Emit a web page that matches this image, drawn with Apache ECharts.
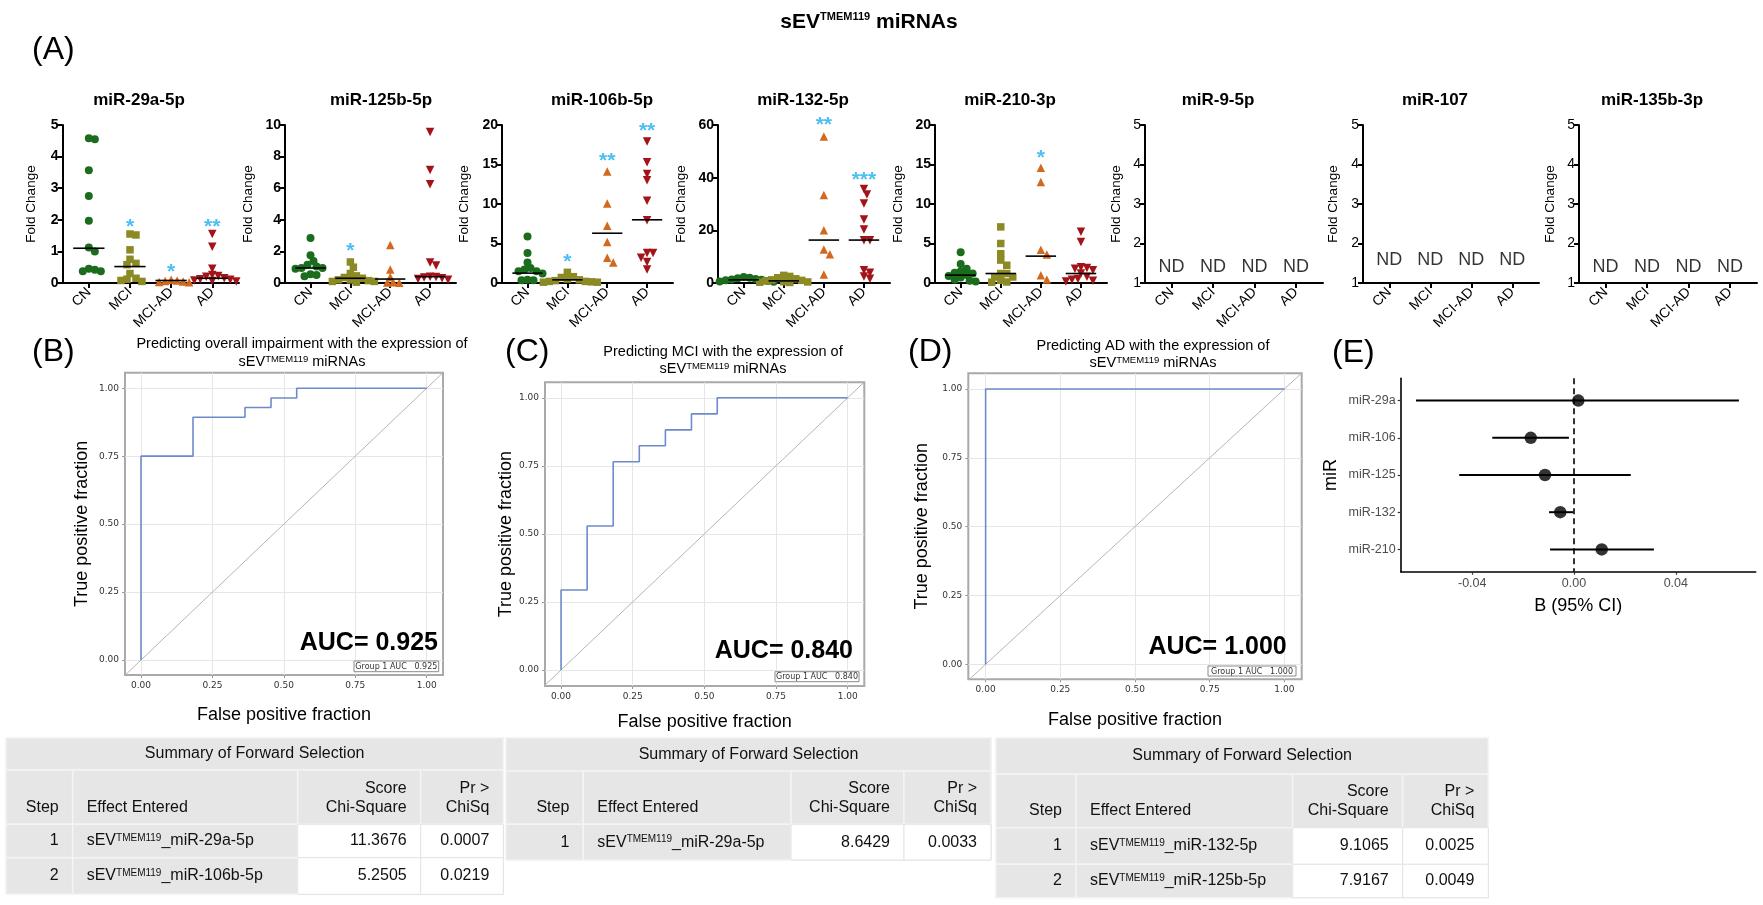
<!DOCTYPE html>
<html><head><meta charset="utf-8">
<script src="https://cdn.jsdelivr.net/npm/echarts@6/dist/echarts.min.js"></script>
<style>html,body{margin:0;padding:0;background:#fff}#c{width:1763px;height:905px}</style>
</head><body><div id="c"></div><script>
// ---------------- DATA ----------------
const groups = ['CN', 'MCI', 'MCI-AD', 'AD'];
const mirTitles = ['miR-29a-5p', 'miR-125b-5p', 'miR-106b-5p', 'miR-132-5p', 'miR-210-3p', 'miR-9-5p', 'miR-107', 'miR-135b-3p'];

const m29a_CN = [4.55, 4.58, 3.57, 2.75, 1.97, 1.12, 1.0, 0.45, 0.37, 0.37, 0.42];
const m29a_MCI = [1.55, 1.52, 1.05, 0.75, 0.62, 0.58, 0.3, 0.15, 0.12, 0.05, 0.08];
const m29a_MCIAD = [0.1, 0.08, 0.06, 0.05, 0.03, 0.02];
const m29a_AD = [1.55, 1.15, 0.45, 0.25, 0.22, 0.2, 0.15, 0.12, 0.1, 0.08, 0.06, 0.05];
const med_29a = [1.1, 0.52, 0.08, 0.15];
const star_29a = ['', '*', '*', '**'];
const starY_29a = [null, 1.93, 0.5, 1.93];

const m125b_CN = [2.85, 1.75, 1.4, 1.15, 1.05, 0.95, 0.9, 0.95, 0.42, 0.55, 0.5];
const m125b_MCI = [1.33, 1.0, 0.6, 0.45, 0.35, 0.3, 0.2, 0.15, 0.1, 0.05, 0.1, 0.2];
const m125b_MCIAD = [2.4, 0.85, 0.38, 0.02, 0.03, 0.05];
const m125b_AD = [9.55, 7.15, 6.25, 1.3, 1.1, 0.4, 0.38, 0.35, 0.3, 0.25, 0.2];
const med_125b = [0.95, 0.3, 0.25, 0.4];
const star_125b = ['', '*', '', ''];
const starY_125b = [null, 2.33, null, null];

const m106b_CN = [5.9, 3.8, 2.6, 1.9, 1.7, 1.5, 1.5, 1.2, 0.35, 0.35, 0.4];
const m106b_MCI = [1.35, 0.8, 0.7, 0.5, 0.4, 0.3, 0.2, 0.2, 0.1, 0.1, 0.15];
const m106b_MCIAD = [14.1, 10.05, 7.25, 5.2, 3.2, 2.6];
const m106b_AD = [17.9, 15.3, 13.8, 13.0, 10.4, 7.95, 3.8, 3.8, 3.2, 2.65, 1.7];
const med_106b = [1.25, 0.4, 6.3, 8.0];
const star_106b = ['', '*', '**', '**'];
const starY_106b = [null, 3.3, 16.1, 19.8];

const m132_CN = [2.3, 2.0, 1.8, 1.5, 1.3, 1.2, 1.0, 0.8, 0.6, 0.5, 0.3];
const m132_MCI = [2.9, 2.5, 2.0, 1.6, 1.2, 1.0, 0.8, 0.5, 0.4, 0.3, 0.2];
const m132_MCIAD = [55.6, 33.4, 20.0, 12.7, 10.9, 3.2];
const m132_AD = [35.7, 33.6, 30.2, 24.1, 20.3, 16.2, 16.2, 4.8, 3.9, 2.5, 1.6];
const med_132 = [1.2, 0.8, 16.3, 16.3];
const star_132 = ['', '', '**', '***'];
const starY_132 = [null, null, 62, 41];

const m210_CN = [3.9, 2.4, 1.8, 1.5, 1.3, 1.2, 1.0, 0.9, 0.7, 0.4, 0.3, 0.2];
const m210_MCI = [7.1, 5.0, 3.7, 2.9, 2.25, 1.2, 1.2, 0.76, 0.76, 0.35, 0.13, 0.1];
const m210_MCIAD = [14.6, 12.8, 4.2, 3.6, 0.97, 0.45];
const m210_AD = [6.5, 5.2, 2.0, 1.9, 1.8, 1.6, 1.2, 0.8, 0.5, 0.4, 0.3, 0.2];
const med_210 = [1.0, 1.2, 3.4, 1.2];
const star_210 = ['', '', '*', ''];
const starY_210 = [null, null, 16.4, null];

const ndText = ['ND', 'ND', 'ND', 'ND'];

const yMinA = [0, 0, 0, 0, 0, 1, 1, 1];
const yMaxA = [5, 10, 20, 60, 20, 5, 5, 5];
const yIntA = [1, 2, 5, 20, 5, 1, 1, 1];

// ROC data
const rocB_fpr = [0, 0, 0.182, 0.182, 0.364, 0.364, 0.455, 0.455, 0.545, 0.545, 1];
const rocB_tpr = [0, 0.75, 0.75, 0.893, 0.893, 0.929, 0.929, 0.964, 0.964, 1, 1];
const rocC_fpr = [0, 0, 0.091, 0.091, 0.182, 0.182, 0.273, 0.273, 0.364, 0.364, 0.455, 0.455, 0.545, 0.545, 1];
const rocC_tpr = [0, 0.294, 0.294, 0.529, 0.529, 0.765, 0.765, 0.824, 0.824, 0.882, 0.882, 0.941, 0.941, 1, 1];
const rocD_fpr = [0, 0, 1];
const rocD_tpr = [0, 1, 1];
const rocTicks = [0, 0.25, 0.5, 0.75, 1];
const aucValues = ['0.925', '0.840', '1.000'];
const rocTitles = ['Predicting overall impairment with the expression of', 'Predicting MCI with the expression of', 'Predicting AD with the expression of'];

// Forest plot (E)
const E_mirs = ['miR-29a', 'miR-106', 'miR-125', 'miR-132', 'miR-210'];
const E_est = [0.0017, -0.0170, -0.0114, -0.0054, 0.0109];
const E_lo = [-0.0621, -0.0321, -0.0451, -0.0098, -0.0094];
const E_hi = [0.0648, -0.0020, 0.0223, -0.0003, 0.0314];
const E_ticks = [-0.04, 0, 0.04];

// Tables
const T1_step = ['1', '2'];
const T1_effect = ['miR-29a-5p', 'miR-106b-5p'];
const T1_score = ['11.3676', '5.2505'];
const T1_p = ['0.0007', '0.0219'];
const T2_step = ['1'];
const T2_effect = ['miR-29a-5p'];
const T2_score = ['8.6429'];
const T2_p = ['0.0033'];
const T3_step = ['1', '2'];
const T3_effect = ['miR-132-5p', 'miR-125b-5p'];
const T3_score = ['9.1065', '7.9167'];
const T3_p = ['0.0025', '0.0049'];

// ---------------- STYLE / LAYOUT ----------------
const FONT = "'Liberation Sans', Arial, Helvetica, sans-serif";
const groupColors = ['#1b6d1d', '#8c8a24', '#d2691e', '#a3141a'];
const groupSymbols = ['circle', 'rect', 'triangle', 'triangle'];
const groupRotate = [0, 0, 0, 180];
const groupSizes = [8, 7.5, 8.5, 8.5];
const starColor = '#1eaef0';

const A_TOP = 125, A_H = 158, X_MIN = -0.64, X_MAX = 3.65;
const A_LAYOUT = [
  { left: 62.5, width: 176.5, title: 139, gap: 24 },
  { left: 285, width: 171, title: 381, gap: 30 },
  { left: 502, width: 171, title: 602, gap: 31 },
  { left: 718, width: 172, title: 803, gap: 30 },
  { left: 935, width: 172, title: 1010, gap: 30 },
  { left: 1145, width: 178, title: 1218, gap: 22, nd: 1.4 },
  { left: 1363, width: 176, title: 1435, gap: 23, nd: 1.58 },
  { left: 1579, width: 178, title: 1652, gap: 22, nd: 1.4 }
];
const ROC_LAYOUT = [
  { left: 125, top: 372.7, width: 318, height: 302.3, xmin: -0.056, xmax: 1.057, ymin: -0.055, ymax: 1.057, ygap: 34, xgap: 31, tx: 302, ty: [344, 362], auc: [438, 643], leg: [354, 661, 84.7, 10.7], label: [32, 352], letter: '(B)' },
  { left: 545, top: 382.3, width: 319.3, height: 303.7, xmin: -0.056, xmax: 1.058, ymin: -0.059, ymax: 1.057, ygap: 27, xgap: 27, tx: 723, ty: [352, 369], auc: [853, 650.7], leg: [775, 671.7, 84, 10], label: [505, 352], letter: '(C)' },
  { left: 968.3, top: 373.3, width: 333.4, height: 306, xmin: -0.058, xmax: 1.058, ymin: -0.0545, ymax: 1.057, ygap: 37.6, xgap: 31.7, tx: 1153, ty: [346, 363], auc: [1286.7, 647], leg: [1208, 666, 88, 10], label: [908, 352], letter: '(D)' }
];
const E_LAYOUT = { left: 1400.7, top: 378.3, width: 355, height: 193.4 };
const T_LAYOUT = [
  { cols: [6, 72.7, 297.7, 420.7, 503.3], rows: [737.7, 770, 824.3, 857.7, 894.3] },
  { cols: [506, 583.3, 791, 904, 991], rows: [737.7, 771, 824.3, 860] },
  { cols: [996, 1076, 1292.7, 1402.7, 1488.3], rows: [737.7, 774.3, 827.7, 864.3, 897.7] }
];

// ---------------- BUILD ----------------
const panelA = [
  { vals: [m29a_CN, m29a_MCI, m29a_MCIAD, m29a_AD], med: med_29a, star: star_29a, starY: starY_29a },
  { vals: [m125b_CN, m125b_MCI, m125b_MCIAD, m125b_AD], med: med_125b, star: star_125b, starY: starY_125b },
  { vals: [m106b_CN, m106b_MCI, m106b_MCIAD, m106b_AD], med: med_106b, star: star_106b, starY: starY_106b },
  { vals: [m132_CN, m132_MCI, m132_MCIAD, m132_AD], med: med_132, star: star_132, starY: starY_132 },
  { vals: [m210_CN, m210_MCI, m210_MCIAD, m210_AD], med: med_210, star: star_210, starY: starY_210 }
];

function swarmOffsets(vals, yMin, yMax, hPx, unitPx) {
  const idx = vals.map((v, i) => i).sort((a, b) => vals[b] - vals[a]);
  const placed = []; const off = new Array(vals.length).fill(0);
  const D = 6;
  idx.forEach(i => {
    const py = (vals[i] - yMin) / (yMax - yMin) * hPx;
    for (let k = 0; k < 80; k++) {
      const s = k === 0 ? 0 : ((k % 2) ? Math.ceil(k / 2) : -Math.ceil(k / 2));
      const px = s * D / 2;
      if (placed.every(p => Math.hypot(p[0] - px, p[1] - py) >= D)) { placed.push([px, py]); off[i] = px / unitPx; break; }
    }
  });
  return off;
}

const grids = [], xAxes = [], yAxes = [], series = [], gfx = [];

function txt(x, y, text, o) {
  o = o || {};
  return {
    type: 'text', x: x, y: y, z: 100, silent: true,
    style: Object.assign({ text: text, fontFamily: FONT, fontSize: 14, fill: '#000', align: 'center', verticalAlign: 'middle' }, o)
  };
}
const supRich = (fs, bold) => ({ sup: { fontSize: fs, fontFamily: FONT, fontWeight: bold ? 'bold' : 'normal', verticalAlign: 'top', fill: '#000' } });

// Main title
gfx.push(txt(869, 22, 'sEV{sup|TMEM119} miRNAs', { fontSize: 21, fontWeight: 'bold', rich: supRich(11, true) }));
gfx.push(txt(32, 50, '(A)', { fontSize: 32, align: 'left' }));

// ---- Panel A ----
A_LAYOUT.forEach((L, i) => {
  grids.push({ left: L.left, top: A_TOP, width: L.width, height: A_H, outerBoundsMode: 'none', containLabel: false });
  xAxes.push({
    gridIndex: i, type: 'value', min: X_MIN, max: X_MAX,
    axisLine: { show: true, onZero: false, lineStyle: { color: '#000', width: 2 } },
    axisTick: { show: true, customValues: [0, 1, 2, 3], length: 5, lineStyle: { color: '#000', width: 2 } },
    axisLabel: { customValues: [0, 1, 2, 3], formatter: v => groups[Math.round(v)], rotate: 45, fontSize: 14, color: '#000', fontFamily: FONT, margin: 7 },
    splitLine: { show: false }
  });
  yAxes.push({
    gridIndex: i, type: 'value', min: yMinA[i], max: yMaxA[i], interval: yIntA[i],
    axisLine: { show: true, onZero: false, lineStyle: { color: '#000', width: 2 } },
    axisTick: { show: true, length: 5, lineStyle: { color: '#000', width: 2 } },
    axisLabel: { fontSize: 14, fontWeight: i < 5 ? 'bold' : 'normal', color: '#000', fontFamily: FONT, margin: 4 },
    splitLine: { show: false },
    name: 'Fold Change', nameLocation: 'middle', nameGap: L.gap,
    nameTextStyle: { fontSize: 13.5, fontFamily: FONT, color: '#000' }
  });
  gfx.push(txt(L.title, 100, mirTitles[i], { fontSize: 17, fontWeight: 'bold' }));

  const unitPx = L.width / (X_MAX - X_MIN);
  if (i < 5) {
    const P = panelA[i];
    P.vals.forEach((vals, g) => {
      const off = swarmOffsets(vals, yMinA[i], yMaxA[i], A_H, unitPx);
      series.push({
        type: 'scatter', xAxisIndex: i, yAxisIndex: i, z: 2,
        symbol: groupSymbols[g], symbolRotate: groupRotate[g], symbolSize: groupSizes[g],
        itemStyle: { color: groupColors[g], opacity: 1 },
        data: vals.map((v, k) => [g + off[k], v])
      });
    });
    series.push({
      type: 'custom', xAxisIndex: i, yAxisIndex: i, z: 5,
      encode: { x: 0, y: 1 },
      data: P.med.map((m, g) => [g, m]),
      renderItem: (params, api) => {
        const c = api.value(0), m = api.value(1);
        const p1 = api.coord([c - 0.38, m]), p2 = api.coord([c + 0.38, m]);
        return { type: 'line', shape: { x1: p1[0], y1: p1[1], x2: p2[0], y2: p2[1] }, style: { stroke: '#000', lineWidth: 1.6 } };
      }
    });
    const sd = [];
    P.star.forEach((s, g) => { if (s) sd.push({ value: [g, P.starY[g]], name: s }); });
    series.push({
      type: 'scatter', xAxisIndex: i, yAxisIndex: i, z: 6, clip: false, symbolSize: 1,
      itemStyle: { color: 'rgba(0,0,0,0)' },
      label: { show: true, position: 'inside', formatter: '{b}', color: starColor, fontSize: 21, fontWeight: 'bold', fontFamily: FONT, offset: [0, 5] },
      data: sd
    });
  } else {
    series.push({
      type: 'scatter', xAxisIndex: i, yAxisIndex: i, z: 6, symbolSize: 1,
      itemStyle: { color: 'rgba(0,0,0,0)' },
      label: { show: true, position: 'inside', formatter: '{b}', color: '#000', fontSize: 18, fontFamily: FONT },
      data: ndText.map((t, g) => ({ value: [g, L.nd], name: t }))
    });
  }
});

// ---- ROC panels ----
const rocData = [[rocB_fpr, rocB_tpr], [rocC_fpr, rocC_tpr], [rocD_fpr, rocD_tpr]];
ROC_LAYOUT.forEach((L, j) => {
  const gi = 8 + j;
  grids.push({ left: L.left, top: L.top, width: L.width, height: L.height, show: true, borderColor: '#a9a9a9', borderWidth: 2, backgroundColor: 'rgba(0,0,0,0)', outerBoundsMode: 'none', containLabel: false });
  const axisCommon = {
    type: 'value', gridIndex: gi,
    axisLine: { show: false, onZero: false },
    axisTick: { show: true, customValues: rocTicks, length: 3, lineStyle: { color: '#999' } },
    axisLabel: { customValues: rocTicks, formatter: v => v.toFixed(2), fontSize: 9, color: '#333', fontFamily: "'DejaVu Sans', Arial, sans-serif", margin: 6 },
    splitLine: { show: false },
    nameLocation: 'middle', nameTextStyle: { fontSize: 18, fontFamily: FONT, color: '#000' }
  };
  xAxes.push(Object.assign({}, axisCommon, { min: L.xmin, max: L.xmax, name: 'False positive fraction', nameGap: L.xgap }));
  yAxes.push(Object.assign({}, axisCommon, { min: L.ymin, max: L.ymax, name: 'True positive fraction', nameGap: L.ygap }));
  series.push({
    type: 'line', xAxisIndex: gi, yAxisIndex: gi, z: 2, symbol: 'none', silent: true,
    lineStyle: { color: '#b5b5b5', width: 1 },
    data: [[-0.07, -0.07], [1.07, 1.07]],
    markLine: {
      z: 1, silent: true, symbol: ['none', 'none'], label: { show: false },
      lineStyle: { color: '#e6e6e6', width: 1, type: 'solid' },
      data: rocTicks.map(v => ({ xAxis: v })).concat(rocTicks.map(v => ({ yAxis: v })))
    }
  });
  const fpr = rocData[j][0], tpr = rocData[j][1];
  series.push({
    type: 'line', xAxisIndex: gi, yAxisIndex: gi, z: 10, symbol: 'none',
    lineStyle: { color: '#6d8bcc', width: 1.6 },
    data: fpr.map((x, k) => [x, tpr[k]])
  });
  gfx.push(txt(L.label[0], L.label[1], L.letter, { fontSize: 32, align: 'left' }));
  gfx.push(txt(L.tx, L.ty[0], rocTitles[j], { fontSize: 14.5 }));
  gfx.push(txt(L.tx, L.ty[1], 'sEV{sup|TMEM119} miRNAs', { fontSize: 14.5, rich: supRich(9.5, false) }));
  gfx.push(txt(L.auc[0], L.auc[1], 'AUC= ' + aucValues[j], { fontSize: 25, fontWeight: 'bold', align: 'right' }));
  gfx.push({ type: 'rect', z: 100, silent: true, shape: { x: L.leg[0], y: L.leg[1], width: L.leg[2], height: L.leg[3] }, style: { fill: '#fff', stroke: '#8a8a8a', lineWidth: 1 } });
  gfx.push(txt(L.leg[0] + L.leg[2] / 2, L.leg[1] + L.leg[3] / 2 + 0.5, 'Group 1 AUC   ' + aucValues[j], { fontSize: 8, fill: '#333', fontFamily: "'DejaVu Sans', Arial, sans-serif" }));
});

// ---- Panel E ----
{
  const gi = 11;
  grids.push({ left: E_LAYOUT.left, top: E_LAYOUT.top, width: E_LAYOUT.width, height: E_LAYOUT.height, outerBoundsMode: 'none', containLabel: false });
  xAxes.push({
    gridIndex: gi, type: 'value', min: -0.0681, max: 0.0714,
    axisLine: { show: true, onZero: false, lineStyle: { color: '#000', width: 1.6 } },
    axisTick: { show: true, customValues: E_ticks, length: 3, lineStyle: { color: '#333', width: 1.2 } },
    axisLabel: { customValues: E_ticks, formatter: v => (Math.abs(v) < 1e-9 ? 0 : v).toFixed(2), fontSize: 12.5, color: '#4d4d4d', fontFamily: FONT, margin: 5 },
    splitLine: { show: false },
    name: 'B (95% CI)', nameLocation: 'middle', nameGap: 25, nameTextStyle: { fontSize: 18, fontFamily: FONT, color: '#000' }
  });
  yAxes.push({
    gridIndex: gi, type: 'value', inverse: true, min: -0.6, max: 4.6,
    axisLine: { show: true, onZero: false, lineStyle: { color: '#000', width: 1.6 } },
    axisTick: { show: true, customValues: [0, 1, 2, 3, 4], length: 3, lineStyle: { color: '#333', width: 1.2 } },
    axisLabel: { customValues: [0, 1, 2, 3, 4], formatter: v => E_mirs[Math.round(v)], fontSize: 12.5, color: '#4d4d4d', fontFamily: FONT, margin: 5 },
    splitLine: { show: false },
    name: 'miR', nameLocation: 'middle', nameGap: 61, nameTextStyle: { fontSize: 18, fontFamily: FONT, color: '#000' }
  });
  series.push({
    type: 'line', xAxisIndex: gi, yAxisIndex: gi, z: 2, symbol: 'none', silent: true,
    lineStyle: { color: '#000', width: 1.6, type: [6, 4] },
    data: [[0, -0.6], [0, 4.6]]
  });
  series.push({
    type: 'custom', xAxisIndex: gi, yAxisIndex: gi, z: 3,
    encode: { x: [0, 1], y: 2 },
    data: E_mirs.map((m, k) => [E_lo[k], E_hi[k], k]),
    renderItem: (params, api) => {
      const p1 = api.coord([api.value(0), api.value(2)]), p2 = api.coord([api.value(1), api.value(2)]);
      return { type: 'line', shape: { x1: p1[0], y1: p1[1], x2: p2[0], y2: p2[1] }, style: { stroke: '#000', lineWidth: 2 } };
    }
  });
  series.push({
    type: 'scatter', xAxisIndex: gi, yAxisIndex: gi, z: 4, symbolSize: 12.5,
    itemStyle: { color: '#000' },
    data: E_est.map((v, k) => [v, k])
  });
  gfx.push(txt(1332, 353, '(E)', { fontSize: 32, align: 'left' }));
}

// ---- Tables ----
function buildTable(L, steps, effects, scores, pvals) {
  const c = L.cols, r = L.rows;
  const grey = '#e6e6e6';
  const rect = (x, y, w, h, fill, stroke, lw) => ({ type: 'rect', z: 50, silent: true, shape: { x: x, y: y, width: w, height: h }, style: { fill: fill, stroke: stroke, lineWidth: lw } });
  const tstyle = { fontSize: 16, fill: '#111' };
  gfx.push(rect(c[0], r[0], c[4] - c[0], r[r.length - 1] - r[0], grey, '#dcdcdc', 1));
  gfx.push(rect(c[0], r[0], c[4] - c[0], r[1] - r[0], grey, '#f4f4f4', 1.5));
  gfx.push(txt((c[0] + c[4]) / 2, (r[0] + r[1]) / 2, 'Summary of Forward Selection', tstyle));
  for (let k = 0; k < 4; k++) gfx.push(rect(c[k], r[1], c[k + 1] - c[k], r[2] - r[1], grey, '#f4f4f4', 1.5));
  const l2 = r[2] - 17, l1 = r[2] - 36;
  gfx.push(txt(c[1] - 14, l2, 'Step', Object.assign({ align: 'right' }, tstyle)));
  gfx.push(txt(c[1] + 14, l2, 'Effect Entered', Object.assign({ align: 'left' }, tstyle)));
  gfx.push(txt(c[3] - 14, l1, 'Score', Object.assign({ align: 'right' }, tstyle)));
  gfx.push(txt(c[3] - 14, l2, 'Chi-Square', Object.assign({ align: 'right' }, tstyle)));
  gfx.push(txt(c[4] - 14, l1, 'Pr >', Object.assign({ align: 'right' }, tstyle)));
  gfx.push(txt(c[4] - 14, l2, 'ChiSq', Object.assign({ align: 'right' }, tstyle)));
  steps.forEach((s, i) => {
    const y0 = r[2 + i], y1 = r[3 + i], ym = (y0 + y1) / 2;
    gfx.push(rect(c[0], y0, c[1] - c[0], y1 - y0, grey, '#f4f4f4', 1.5));
    gfx.push(rect(c[1], y0, c[2] - c[1], y1 - y0, grey, '#f4f4f4', 1.5));
    gfx.push(rect(c[2], y0, c[3] - c[2], y1 - y0, '#ffffff', '#e4e4e4', 1));
    gfx.push(rect(c[3], y0, c[4] - c[3], y1 - y0, '#ffffff', '#e4e4e4', 1));
    gfx.push(txt(c[1] - 14, ym, s, Object.assign({ align: 'right' }, tstyle)));
    gfx.push(txt(c[1] + 14, ym, 'sEV{sup|TMEM119}_' + effects[i], Object.assign({ align: 'left', rich: { sup: { fontSize: 10, fontFamily: FONT, verticalAlign: 'top', fill: '#111' } } }, tstyle)));
    gfx.push(txt(c[3] - 14, ym, scores[i], Object.assign({ align: 'right' }, tstyle)));
    gfx.push(txt(c[4] - 14, ym, pvals[i], Object.assign({ align: 'right' }, tstyle)));
  });
}
buildTable(T_LAYOUT[0], T1_step, T1_effect, T1_score, T1_p);
buildTable(T_LAYOUT[1], T2_step, T2_effect, T2_score, T2_p);
buildTable(T_LAYOUT[2], T3_step, T3_effect, T3_score, T3_p);

const chart = echarts.init(document.getElementById('c'), null, { renderer: 'canvas', width: 1763, height: 905 });
chart.setOption({
  animation: false, backgroundColor: '#fff',
  textStyle: { fontFamily: FONT },
  grid: grids, xAxis: xAxes, yAxis: yAxes, series: series,
  graphic: { elements: gfx }
});
</script></body></html>
